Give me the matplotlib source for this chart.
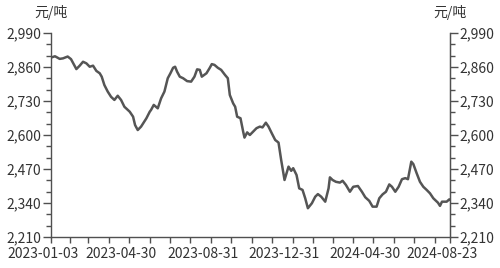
import numpy as np
import pandas as pd
import matplotlib
matplotlib.use('Agg')
import matplotlib.pyplot as plt
import matplotlib.transforms as mtransforms
from matplotlib.ticker import FuncFormatter, MultipleLocator

plt.rcParams['font.family'] = ['Noto Sans CJK SC', 'DejaVu Sans']

# days after 2023-01-03, price in yuan/ton
start_date = '2023-01-03'
day_offset = [0, 6, 13, 18, 25, 30, 38, 43, 48, 53, 58, 63, 68, 73, 76, 80, 85, 90, 95, 100,
              105, 110, 118, 123, 126, 130, 135, 143, 148, 150, 154, 160, 165, 170, 175, 179, 183, 186, 189, 193,
              198, 204, 210, 215, 219, 223, 226, 233, 238, 241, 245, 250, 255, 261, 265, 268, 273, 276, 279, 284,
              288, 290, 294, 298, 303, 308, 313, 317, 322, 326, 331, 336, 341, 345, 350, 353, 356, 360, 363, 368,
              372, 377, 381, 385, 391, 396, 400, 405, 411, 416, 418, 422, 427, 433, 437, 442, 448, 453, 460, 466,
              471, 477, 482, 488, 492, 497, 502, 507, 511, 516, 521, 526, 531, 535, 540, 543, 548, 553, 558, 563,
              568, 573, 580, 583, 586, 593, 597, 598]
price = [2896, 2901, 2891, 2893, 2900, 2890, 2852, 2865, 2880, 2874, 2861, 2865, 2845, 2836, 2823, 2791, 2766, 2746, 2734, 2750,
         2734, 2708, 2689, 2670, 2638, 2619, 2632, 2664, 2689, 2696, 2715, 2702, 2740, 2766, 2817, 2836, 2857, 2861, 2842, 2823,
         2817, 2806, 2804, 2823, 2851, 2849, 2823, 2836, 2857, 2871, 2868, 2857, 2849, 2829, 2817, 2753, 2721, 2708, 2670, 2664,
         2613, 2590, 2610, 2600, 2613, 2626, 2632, 2629, 2647, 2632, 2606, 2581, 2571, 2504, 2428, 2454, 2479, 2463, 2473, 2447,
         2396, 2390, 2358, 2320, 2339, 2364, 2374, 2364, 2345, 2396, 2438, 2428, 2421, 2418, 2425, 2409, 2383, 2402, 2405, 2383,
         2362, 2348, 2326, 2326, 2358, 2373, 2383, 2411, 2402, 2383, 2402, 2431, 2435, 2431, 2498, 2489, 2454, 2421, 2402, 2390,
         2377, 2358, 2341, 2329, 2345, 2345, 2354, 2352]

label_dates = ['2023-01-03', '2023-04-30', '2023-08-31', '2023-12-31', '2024-04-30', '2024-08-23']
end_date = '2024-08-23'
y_min, y_max, y_step = 2210, 2990, 130
unit = '元/吨'

dates = pd.Timestamp(start_date) + pd.to_timedelta(day_offset, unit='D')

fig = plt.figure(figsize=(5.0, 2.68), dpi=100)
ax = fig.add_axes([0.102, 0.1157, 0.798, 0.7612])
ax.plot(dates, price, color='#555555', linewidth=1.8)

ax.set_xlim(pd.Timestamp(start_date), pd.Timestamp(end_date))
ax.set_ylim(y_min, y_max)

axis_col = '#505050'
text_col = '#333333'

ax.spines['top'].set_visible(False)
for s in ['left', 'bottom', 'right']:
    ax.spines[s].set_color(axis_col)
    ax.spines[s].set_linewidth(1.0)

# x axis: month-end ticks, labels at a few dates
major = [pd.Timestamp(d) for d in label_dates]
ax.set_xticks(major)
ax.set_xticklabels(label_dates)
minor = pd.date_range(start_date, end_date, freq='ME')
ax.set_xticks(minor, minor=True)
ax.tick_params(axis='x', which='both', length=4, width=1, color=axis_col, direction='out',
               labelsize=10, labelcolor=text_col, pad=3)
shift = mtransforms.ScaledTranslation(-8 / 100, 0, fig.dpi_scale_trans)
for lbl in ax.get_xticklabels():
    lbl.set_transform(lbl.get_transform() + shift)

fmt = FuncFormatter(lambda v, p: '{:,.0f}'.format(v))
yt = np.arange(y_min, y_max + 1, y_step)

ax2 = ax.twinx()
ax2.set_position(ax.get_position())
ax2.set_ylim(y_min, y_max)
ax2.spines['top'].set_visible(False)
ax2.spines['right'].set_color(axis_col)
ax2.spines['left'].set_visible(False)
ax2.spines['bottom'].set_visible(False)

for a in [ax, ax2]:
    a.set_yticks(yt)
    a.yaxis.set_major_formatter(fmt)
    a.yaxis.set_minor_locator(MultipleLocator(y_step / 3))
    a.tick_params(axis='y', which='major', length=5.8, width=1, color=axis_col,
                  labelsize=10, labelcolor=text_col, pad=1)
    a.tick_params(axis='y', which='minor', length=3.6, width=1, color=axis_col)

ax.tick_params(axis='y', which='both', right=False)

fig.text(0.102, 1 - 12 / 268, unit, ha='center', va='center', fontsize=10, color=text_col)
fig.text(0.900, 1 - 12 / 268, unit, ha='center', va='center', fontsize=10, color=text_col)

fig.savefig('out.png', dpi=100)
